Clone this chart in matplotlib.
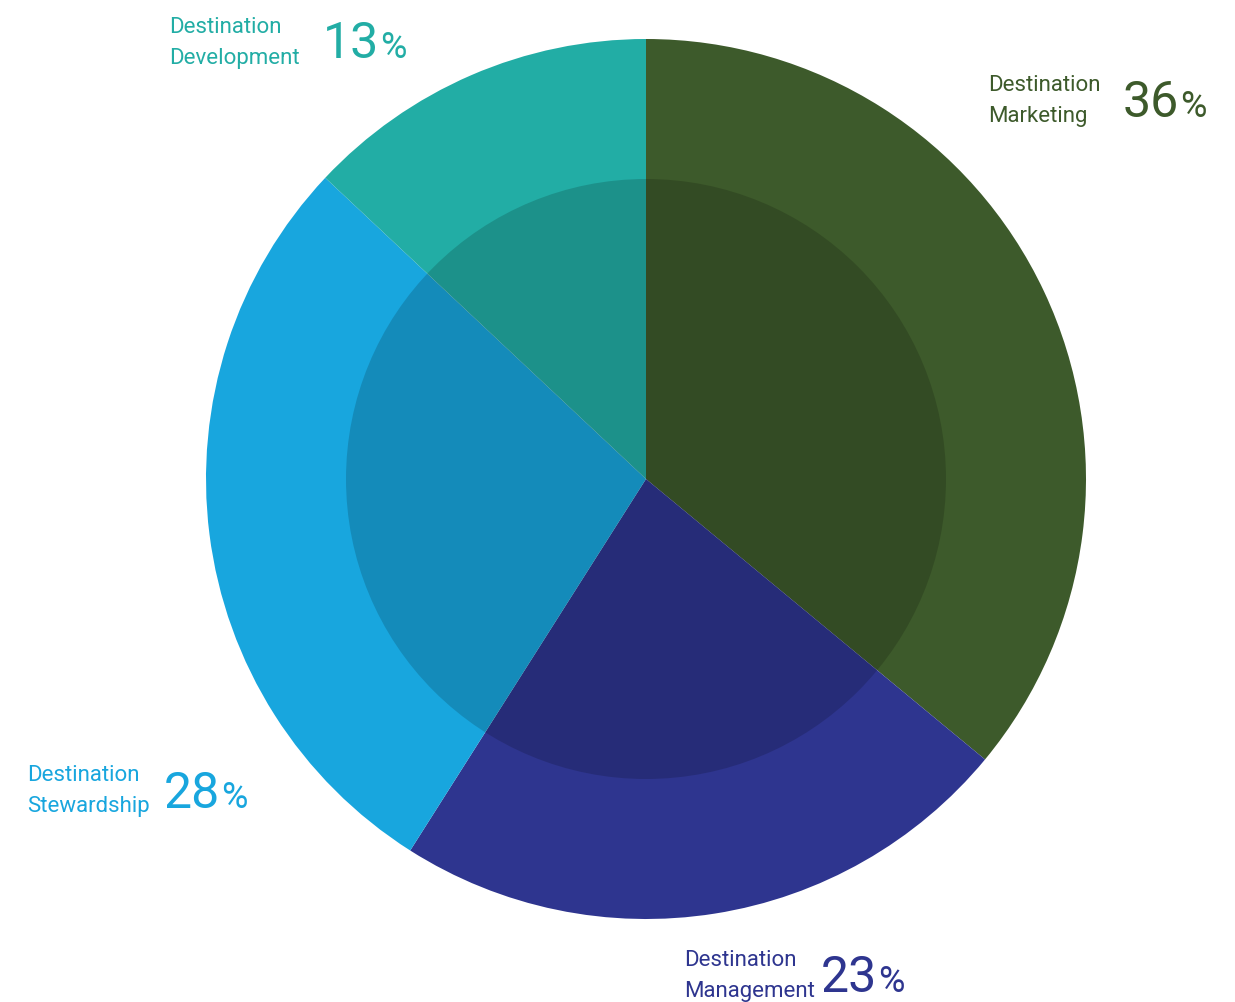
import matplotlib
matplotlib.use("Agg")
import matplotlib.pyplot as plt
from matplotlib.patches import Circle

categories = ["Destination\nMarketing", "Destination\nManagement", "Destination\nStewardship", "Destination\nDevelopment"]
values = [36, 23, 28, 13]
colors = ["#3D5A2B", "#2E358F", "#18A6DE", "#22ADA5"]

FONT = ["Roboto", "DejaVu Sans"]

W, H = 1235, 1003
fig = plt.figure(figsize=(W / 100, H / 100), dpi=100)
ax = fig.add_axes([0, 0, 1, 1])

cx, cy, R = 646, H - 480, 440
ax.pie(values, colors=colors, startangle=90, counterclock=False,
       center=(cx, cy), radius=R, wedgeprops=dict(linewidth=0))
ax.add_patch(Circle((cx, cy), 300, facecolor="black", alpha=0.16, linewidth=0, zorder=5))

ax.set_xlim(0, W)
ax.set_ylim(0, H)
ax.set_aspect("equal")
ax.axis("off")

# label x, first baseline, number x, number baseline (pixels from top-left)
layout = [
    (988, 91, 1123, 117),
    (684, 966, 821, 992),
    (27, 781, 164, 808),
    (169, 33, 323, 58),
]
fig.canvas.draw()
for cat, v, col, (lx, ly, nx, ny) in zip(categories, values, colors, layout):
    l1, l2 = cat.split("\n")
    ax.text(lx, H - ly, l1, fontsize=16, family=FONT, color=col, ha="left", va="baseline")
    ax.text(lx, H - ly - 31, l2, fontsize=16, family=FONT, color=col, ha="left", va="baseline")
    t = ax.text(nx, H - ny, f"{v}", fontsize=36, family=FONT, color=col, ha="left",
                va="baseline", fontweight="normal")
    fig.canvas.draw()
    bb = t.get_window_extent()
    x1 = ax.transData.inverted().transform((bb.x1, bb.y0))[0]
    ax.text(x1 + 1, H - ny, "%", fontsize=26, family=FONT, color=col, ha="left",
            va="baseline", fontweight="normal")

fig.savefig("out.png", dpi=100, facecolor="white")
